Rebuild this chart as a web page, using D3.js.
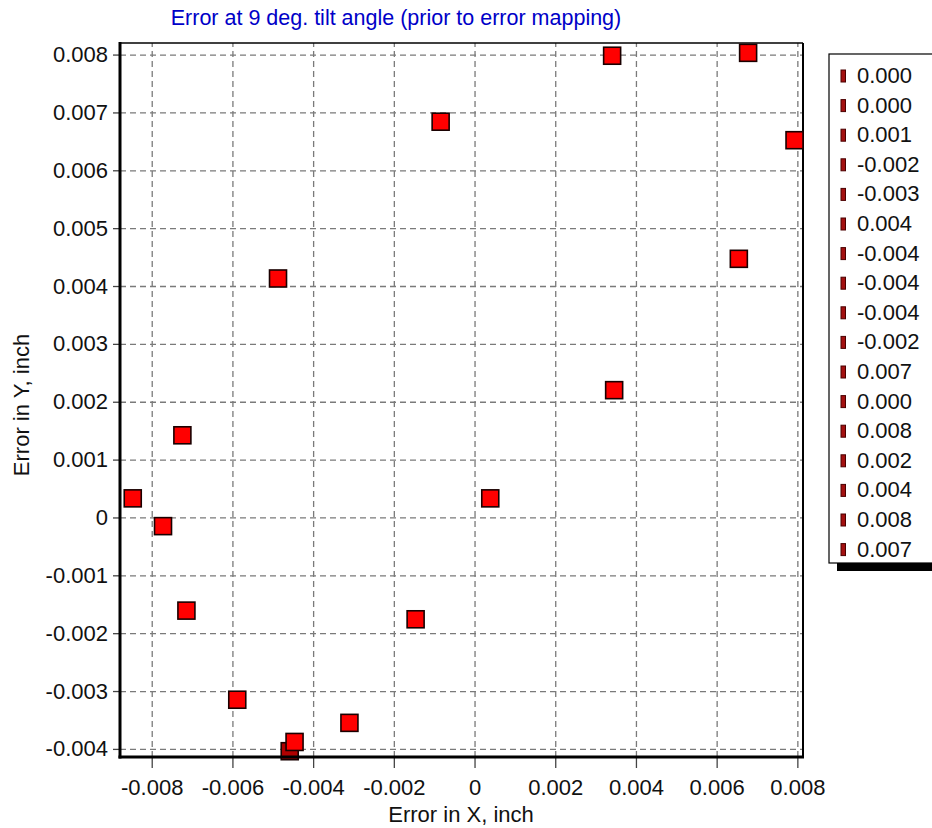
<!DOCTYPE html>
<html>
<head>
<meta charset="utf-8">
<script src="https://cdn.jsdelivr.net/npm/d3@7"></script>
<style>
  body { margin: 0; background: #fff; }
  svg { display: block; font-family: "Liberation Sans", Arial, sans-serif; }
  .grid line { stroke: #7a7a7a; stroke-width: 1.3; stroke-dasharray: 6,4; }
  .grid .domain { display: none; }
</style>
</head>
<body>
<svg id="chart" width="932" height="828"></svg>
<script>
// points, legend lists the y error of each point (ordered by x)
var xErr = [-0.00847, -0.00772, -0.00724, -0.00714, -0.00588, -0.00487, -0.00458, -0.00446, -0.00310,
            -0.00146, -0.00084, 0.00039, 0.00341, 0.00346, 0.00655, 0.00678, 0.00793]
var yErr = [0.00033, -0.00015, 0.00142, -0.00161, -0.00315, 0.00413, -0.00404, -0.00388, -0.00355,
            -0.00176, 0.00684, 0.00033, 0.00798, 0.00220, 0.00447, 0.00803, 0.00652]
var legendLabels = ['0.000', '0.000', '0.001', '-0.002', '-0.003', '0.004', '-0.004', '-0.004', '-0.004',
                    '-0.002', '0.007', '0.000', '0.008', '0.002', '0.004', '0.008', '0.007']

var xTicks = [-0.008, -0.006, -0.004, -0.002, 0, 0.002, 0.004, 0.006, 0.008]
var xTickLabels = ['-0.008', '-0.006', '-0.004', '-0.002', '0', '0.002', '0.004', '0.006', '0.008']
var yTicks = [0.008, 0.007, 0.006, 0.005, 0.004, 0.003, 0.002, 0.001, 0, -0.001, -0.002, -0.003, -0.004]
var yTickLabels = ['0.008', '0.007', '0.006', '0.005', '0.004', '0.003', '0.002', '0.001', '0',
                   '-0.001', '-0.002', '-0.003', '-0.004']

var pLeft = 120, pRight = 803, pTop = 43, pBottom = 757
var fontSize = 22

var svg = d3.select('#chart')

var x = d3.scaleLinear().domain([-0.008786, 0.00814]).range([pLeft, pRight])
var y = d3.scaleLinear().domain([-0.00414, 0.0082]).range([pBottom, pTop])

var xMinor = d3.range(-0.0085, 0.00801, 0.0005)
var yMinor = d3.range(-0.004, 0.00801, 0.00025)

// grid
svg.append('g').attr('class', 'grid')
  .attr('transform', 'translate(0,' + pBottom + ')')
  .call(d3.axisBottom(x).tickValues(xTicks).tickSize(-(pBottom - pTop)).tickFormat(''))
svg.append('g').attr('class', 'grid')
  .attr('transform', 'translate(' + pLeft + ',0)')
  .call(d3.axisLeft(y).tickValues(yTicks).tickSize(-(pRight - pLeft)).tickFormat(''))

// frame
svg.append('line').attr('x1', pLeft).attr('x2', pRight).attr('y1', pTop).attr('y2', pTop)
  .attr('stroke', '#000').attr('stroke-width', 1.5)
svg.append('line').attr('x1', pRight).attr('x2', pRight).attr('y1', pTop).attr('y2', pBottom)
  .attr('stroke', '#000').attr('stroke-width', 2)

// points
var size = 17
svg.append('g').selectAll('rect').data(xErr).join('rect')
  .attr('x', (d, i) => x(d) - size / 2)
  .attr('y', (d, i) => y(yErr[i]) - size / 2)
  .attr('width', size).attr('height', size)
  .attr('fill', (d, i) => i == 6 ? '#b00000' : '#ff0000')
  .attr('stroke', '#1a0000').attr('stroke-width', 1.6)

// x axis
var gx = svg.append('g').attr('transform', 'translate(0,' + pBottom + ')')
gx.call(d3.axisBottom(x).tickValues(xMinor).tickSize(6).tickFormat(''))
gx.call(d3.axisBottom(x).tickValues(xTicks).tickSize(11).tickSizeOuter(0)
  .tickFormat((d, i) => xTickLabels[i]))
gx.select('.domain').remove()
gx.selectAll('text').attr('font-size', fontSize).attr('fill', '#111')
  .attr('font-family', '"Liberation Sans", Arial, sans-serif').attr('y', 22)
gx.selectAll('line').attr('stroke', '#444').attr('stroke-width', 1.3)

// y axis
var gy = svg.append('g').attr('transform', 'translate(' + pLeft + ',0)')
gy.call(d3.axisLeft(y).tickValues(yMinor).tickSize(3).tickFormat(''))
gy.call(d3.axisLeft(y).tickValues(yTicks).tickSize(7).tickSizeOuter(0)
  .tickFormat((d, i) => yTickLabels[i]))
gy.select('.domain').remove()
gy.selectAll('text').attr('font-size', fontSize).attr('fill', '#111')
  .attr('font-family', '"Liberation Sans", Arial, sans-serif').attr('x', -12)
gy.selectAll('line').attr('stroke', '#444').attr('stroke-width', 1.3)

svg.append('line').attr('x1', pLeft).attr('x2', pLeft).attr('y1', pTop - 1).attr('y2', pBottom + 1.5)
  .attr('stroke', '#000').attr('stroke-width', 3)
svg.append('line').attr('x1', pLeft - 1.5).attr('x2', pRight + 1).attr('y1', pBottom).attr('y2', pBottom)
  .attr('stroke', '#000').attr('stroke-width', 3)

// titles
svg.append('text').attr('x', 396).attr('y', 25).attr('text-anchor', 'middle')
  .attr('font-size', 21.5).attr('fill', '#0000c8')
  .text('Error at 9 deg. tilt angle (prior to error mapping)')
svg.append('text').attr('x', 461).attr('y', 822).attr('text-anchor', 'middle')
  .attr('font-size', fontSize).attr('fill', '#111').text('Error in X, inch')
svg.append('text').attr('transform', 'translate(29,405) rotate(-90)').attr('text-anchor', 'middle')
  .attr('font-size', fontSize).attr('fill', '#111').text('Error in Y, inch')

// legend
var lgLeft = 829, lgTop = 54, lgBottom = 563, rowStep = 29.6
svg.append('rect').attr('x', lgLeft + 8).attr('y', lgTop + 8).attr('width', 200).attr('height', lgBottom - lgTop)
  .attr('fill', '#000')
svg.append('rect').attr('x', lgLeft).attr('y', lgTop).attr('width', 200).attr('height', lgBottom - lgTop)
  .attr('fill', '#fff').attr('stroke', '#000').attr('stroke-width', 1.2)
var rows = svg.append('g').selectAll('g').data(legendLabels).join('g')
  .attr('transform', (d, i) => 'translate(' + lgLeft + ',' + (lgTop + 21 + i * rowStep) + ')')
rows.append('rect').attr('x', 12).attr('y', -5).attr('width', 4.5).attr('height', 12)
  .attr('fill', '#a31010').attr('stroke', '#4a0000').attr('stroke-width', 1)
rows.append('text').attr('x', 28).attr('dy', '0.36em').attr('font-size', fontSize).attr('fill', '#111')
  .text(d => d)
</script>
</body>
</html>
